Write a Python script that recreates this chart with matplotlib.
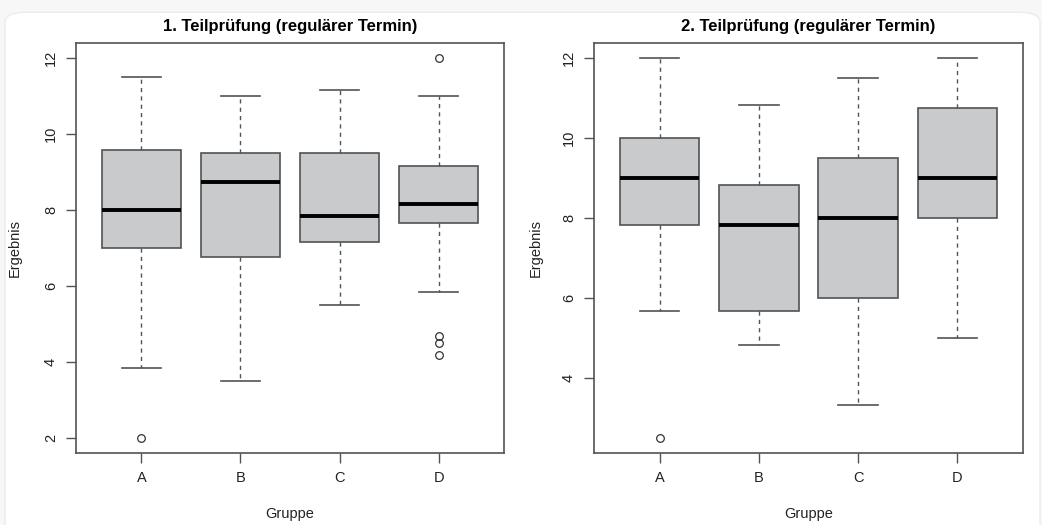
import matplotlib.pyplot as plt
from matplotlib.patches import FancyBboxPatch

plt.rcParams['font.family'] = ['Liberation Sans', 'DejaVu Sans']

groups = ["A", "B", "C", "D"]

# five-number summaries per group, first exam
t1_whislo = [3.83, 3.5, 5.5, 5.83]
t1_q1 = [7.0, 6.75, 7.17, 7.67]
t1_med = [8.0, 8.75, 7.83, 8.17]
t1_q3 = [9.58, 9.5, 9.5, 9.17]
t1_whishi = [11.5, 11.0, 11.17, 11.0]
t1_fliers = [[2.0], [], [], [12.0, 4.67, 4.5, 4.17]]

# second exam
t2_whislo = [5.67, 4.83, 3.33, 5.0]
t2_q1 = [7.83, 5.67, 6.0, 8.0]
t2_med = [9.0, 7.83, 8.0, 9.0]
t2_q3 = [10.0, 8.83, 9.5, 10.75]
t2_whishi = [12.0, 10.83, 11.5, 12.0]
t2_fliers = [[2.5], [], [], []]

titles = ["1. Teilprüfung (regulärer Termin)", "2. Teilprüfung (regulärer Termin)"]
y_ticks = [[2, 4, 6, 8, 10, 12], [4, 6, 8, 10, 12]]


def make_stats(lo, q1, med, q3, hi, fl):
    return [dict(label=g, whislo=a, q1=b, med=c, q3=d, whishi=e, fliers=f)
            for g, a, b, c, d, e, f in zip(groups, lo, q1, med, q3, hi, fl)]


fig = plt.figure(figsize=(10.42, 5.25), dpi=100)
fig.patch.set_facecolor("#f7f7f7")
card = FancyBboxPatch((5 / 1042, -0.05), 1035 / 1042, 1.04 - 7 / 525,
                      boxstyle="round,pad=0,rounding_size=0.02",
                      transform=fig.transFigure, facecolor="white",
                      edgecolor="#ececec", linewidth=1.0, zorder=-5)
fig.patches.append(card)

ax1 = fig.add_axes([76 / 1042, 72 / 525, 428 / 1042, 410 / 525])
ax2 = fig.add_axes([594 / 1042, 72 / 525, 429 / 1042, 410 / 525])

all_stats = [
    make_stats(t1_whislo, t1_q1, t1_med, t1_q3, t1_whishi, t1_fliers),
    make_stats(t2_whislo, t2_q1, t2_med, t2_q3, t2_whishi, t2_fliers),
]

edge = "#4f5456"
for ax, stats, title, yt, ypad in zip([ax1, ax2], all_stats, titles, y_ticks, [16, 14]):
    ax.set_facecolor("none")
    ax.bxp(stats, positions=[1, 2, 3, 4], widths=0.8, capwidths=0.4,
           patch_artist=True,
           boxprops=dict(facecolor="#c9cacc", edgecolor=edge, linewidth=1.2),
           medianprops=dict(color="black", linewidth=2.8, solid_capstyle="butt"),
           whiskerprops=dict(color=edge, linestyle=(0, (3, 3)), linewidth=1.0),
           capprops=dict(color=edge, linewidth=1.2),
           flierprops=dict(marker="o", markersize=5.5, markerfacecolor="none",
                           markeredgecolor="#333333", markeredgewidth=0.9))
    vals = [v for s in stats for v in (s["whislo"], s["whishi"], *s["fliers"])]
    lo, hi = min(vals), max(vals)
    pad = (hi - lo) * 0.04
    ax.set_ylim(lo - pad, hi + pad)
    ax.set_xlim(0.34, 4.66)
    ax.set_yticks(yt)
    ax.set_yticklabels([str(t) for t in yt], rotation=90, va="center")
    ax.set_xticks([1, 2, 3, 4])
    ax.set_xticklabels(groups)
    ax.tick_params(axis="both", length=7, width=1.0, color=edge,
                   labelsize=10.5, labelcolor="#222222", pad=6)
    for sp in ax.spines.values():
        sp.set_color(edge)
        sp.set_linewidth(1.2)
    ax.set_title(title, fontsize=12, fontweight="bold", pad=9)
    ax.set_xlabel("Gruppe", fontsize=10.5, labelpad=16, color="#222222")
    ax.set_ylabel("Ergebnis", fontsize=10.5, labelpad=ypad, color="#222222")

fig.savefig("out.png", dpi=100)
